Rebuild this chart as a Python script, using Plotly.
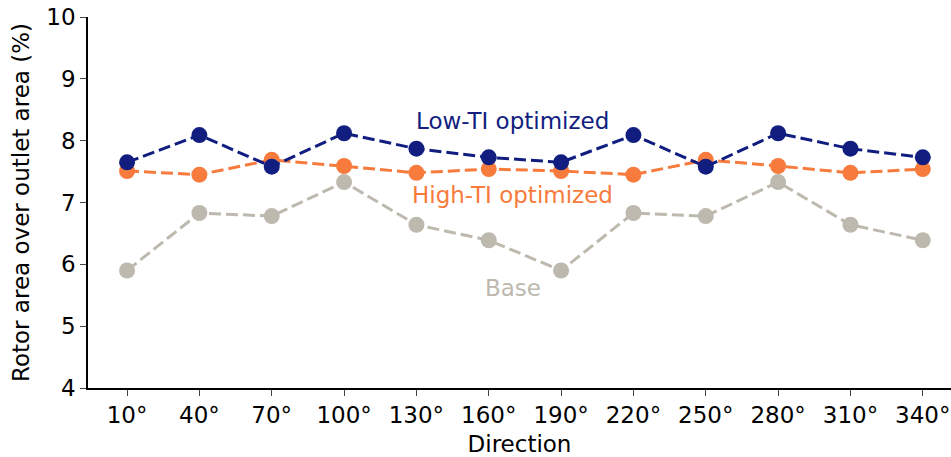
import plotly.graph_objects as go

directions = ["10°", "40°", "70°", "100°", "130°", "160°", "190°", "220°", "250°", "280°", "310°", "340°"]
low_ti = [7.65, 8.09, 7.58, 8.12, 7.87, 7.73, 7.65, 8.09, 7.58, 8.12, 7.87, 7.73]
high_ti = [7.51, 7.45, 7.69, 7.59, 7.48, 7.54, 7.51, 7.45, 7.69, 7.59, 7.48, 7.54]
base = [5.90, 6.83, 6.78, 7.33, 6.64, 6.39, 5.90, 6.83, 6.78, 7.33, 6.64, 6.39]

NAVY = "#111e80"
ORANGE = "#f77b3d"
GRAY = "#bdb9ae"
FONT = "DejaVu Sans"
FS = 23

x = list(range(len(directions)))

fig = go.Figure()
for name, ys, col in [("Base", base, GRAY), ("High-TI optimized", high_ti, ORANGE), ("Low-TI optimized", low_ti, NAVY)]:
    fig.add_trace(go.Scatter(
        x=x, y=ys, name=name, mode="lines+markers",
        line=dict(color=col, width=3, dash="12px,5px"),
        marker=dict(color=col, size=16),
        showlegend=False,
    ))

for text, yv, col in [("Low-TI optimized", 8.32, NAVY), ("High-TI optimized", 7.12, ORANGE), ("Base", 5.61, GRAY)]:
    fig.add_annotation(x=5.33, y=yv, xref="x", yref="y", text=text, showarrow=False,
                       font=dict(color=col, size=FS, family=FONT))

fig.update_layout(
    width=951, height=457,
    margin=dict(l=88, r=0, t=17, b=69),
    plot_bgcolor="white", paper_bgcolor="white",
    font=dict(family=FONT, size=FS, color="black"),
)
fig.update_xaxes(
    range=[-0.54, 11.39], tickvals=x, ticktext=directions, ticklabeloverflow="allow",
    automargin=False,
    showline=True, linecolor="black", linewidth=1.5, ticks="outside", ticklen=6, tickwidth=1.2,
    showgrid=False, zeroline=False,
    title=dict(text="Direction", font=dict(size=FS), standoff=11),
)
fig.update_yaxes(
    range=[4, 10], dtick=1, automargin=False,
    showline=True, linecolor="black", linewidth=1.5, ticks="outside", ticklen=6, tickwidth=1.2,
    showgrid=False, zeroline=False,
    title=dict(text="Rotor area over outlet area (%)", font=dict(size=FS), standoff=10),
)

fig.write_html("out.html")
